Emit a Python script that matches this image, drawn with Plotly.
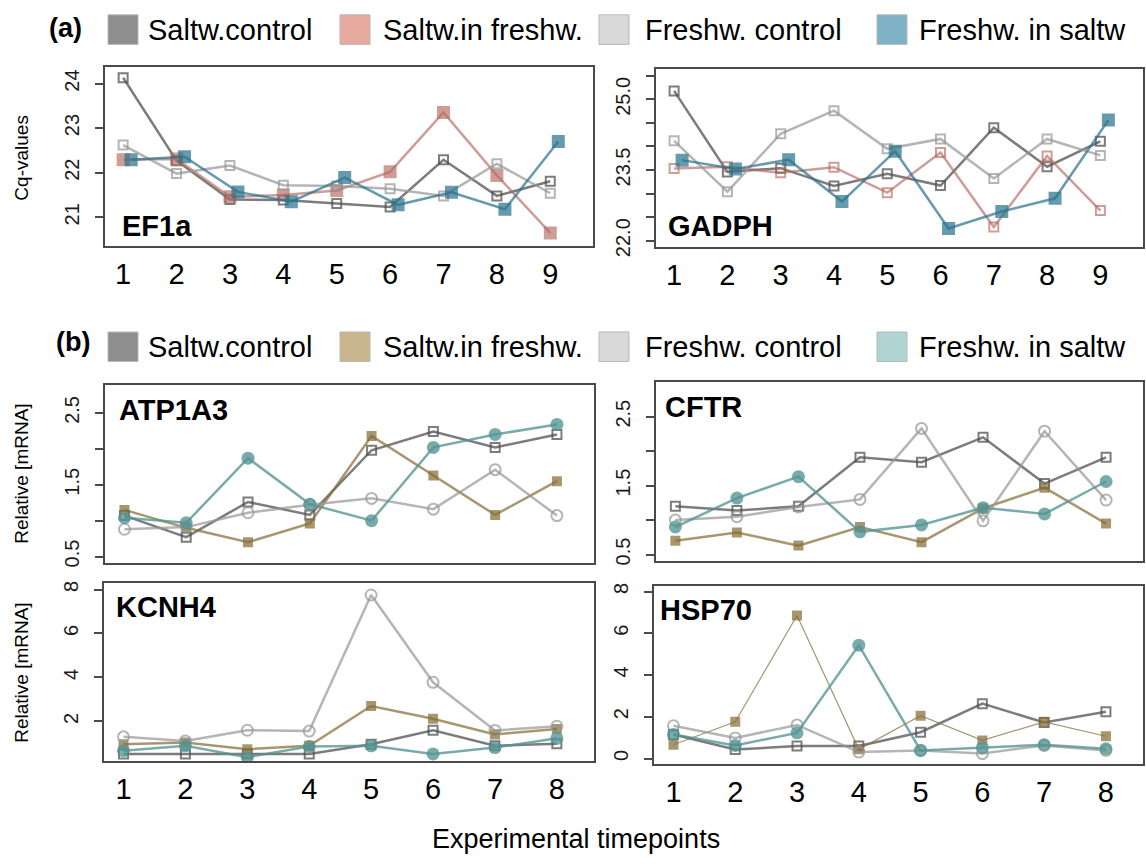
import plotly.graph_objects as go

W, H = 1146, 866

# ---------------- data ----------------
series_names = ["Saltw.control", "Saltw.in freshw.", "Freshw. control", "Freshw. in saltw"]
tp9 = [1, 2, 3, 4, 5, 6, 7, 8, 9]
tp8 = [1, 2, 3, 4, 5, 6, 7, 8]

ef1a_sc = [24.13, 22.27, 21.40, 21.39, 21.31, 21.23, 22.29, 21.48, 21.81]
ef1a_sf = [22.29, 22.31, 21.46, 21.50, 21.60, 22.02, 23.35, 21.94, 20.65]
ef1a_fc = [22.62, 21.98, 22.16, 21.72, 21.70, 21.64, 21.48, 22.20, 21.54]
ef1a_fs = [22.29, 22.36, 21.57, 21.35, 21.89, 21.28, 21.56, 21.18, 22.70]

gadph_sc = [25.18, 23.46, 23.54, 23.16, 23.42, 23.17, 24.40, 23.57, 24.11]
gadph_sf = [23.53, 23.57, 23.44, 23.56, 23.02, 23.87, 22.29, 23.80, 22.64]
gadph_fc = [24.12, 23.04, 24.27, 24.76, 23.95, 24.16, 23.32, 24.16, 23.81]
gadph_fs = [23.71, 23.52, 23.72, 22.83, 23.90, 22.26, 22.62, 22.90, 24.56]

atp_sc = [1.07, 0.77, 1.26, 1.08, 1.98, 2.24, 2.02, 2.20]
atp_sf = [1.15, 0.90, 0.70, 0.96, 2.18, 1.63, 1.08, 1.55]
atp_fc = [0.88, 0.91, 1.11, 1.22, 1.31, 1.16, 1.71, 1.07]
atp_fs = [1.04, 0.97, 1.87, 1.23, 1.00, 2.02, 2.20, 2.34]

cftr_sc = [1.20, 1.14, 1.20, 1.91, 1.84, 2.20, 1.53, 1.91]
cftr_sf = [0.70, 0.82, 0.63, 0.90, 0.68, 1.17, 1.47, 0.95]
cftr_fc = [1.00, 1.05, 1.19, 1.30, 2.33, 0.99, 2.29, 1.29]
cftr_fs = [0.90, 1.32, 1.63, 0.83, 0.93, 1.18, 1.09, 1.56]

kcnh4_sc = [0.52, 0.52, 0.52, 0.52, 0.96, 1.60, 0.89, 0.99]
kcnh4_sf = [0.96, 1.04, 0.74, 0.89, 2.70, 2.12, 1.41, 1.66]
kcnh4_fc = [1.30, 1.11, 1.60, 1.56, 7.75, 3.78, 1.59, 1.78]
kcnh4_fs = [0.67, 0.89, 0.37, 0.86, 0.89, 0.52, 0.81, 1.23]

hsp_sc = [1.15, 0.43, 0.60, 0.60, 1.26, 2.63, 1.73, 2.24]
hsp_sf = [0.66, 1.76, 6.85, 0.44, 2.05, 0.87, 1.76, 1.07]
hsp_fc = [1.57, 0.99, 1.61, 0.31, 0.39, 0.24, 0.63, 0.39]
hsp_fs = [1.15, 0.63, 1.23, 5.43, 0.39, 0.52, 0.66, 0.47]

FONT = "Liberation Sans, Arial, Helvetica, sans-serif"

# ---------------- styles ----------------
C_SC = "rgba(80,80,80,0.75)"
C_FC = "rgba(150,150,150,0.70)"
C_SF_A = "rgba(180,105,95,0.65)"
C_FS_A = "rgba(45,115,140,0.72)"
C_SF_B = "rgba(135,110,55,0.72)"
C_FS_B = "rgba(85,148,148,0.78)"

fig = go.Figure()


def px_dom_x(a, b):
    return [a / W, b / W]


def px_dom_y(top, bottom):
    return [1 - bottom / H, 1 - top / H]


panels = [
    ("EF1a", 1, (105, 593), (65, 247), [20.35, 24.37], [21, 22, 23, 24], ["21", "22", "23", "24"], [0.66, 9.8], tp9, True),
    ("GADPH", 2, (656, 1143), (67, 248), [21.86, 25.645],
     [22.0, 22.5, 23.0, 23.5, 24.0, 24.5, 25.0, 25.5], ["22.0", "", "", "23.5", "", "", "25.0", ""], [0.66, 9.8], tp9, True),
    ("ATP1A3", 3, (105, 594), (388, 569), [0.404, 2.886], [0.5, 1.0, 1.5, 2.0, 2.5], ["0.5", "", "1.5", "", "2.5"], [0.685, 8.6], tp8, False),
    ("CFTR", 4, (656, 1143), (385, 566), [0.414, 3.0], [0.5, 1.0, 1.5, 2.0, 2.5], ["0.5", "", "1.5", "", "2.5"], [0.685, 8.6], tp8, False),
    ("KCNH4", 5, (104, 594), (589, 770), [0.18, 8.29], [2, 4, 6, 8], ["2", "4", "6", "8"], [0.685, 8.6], tp8, True),
    ("HSP70", 6, (654, 1143), (592, 773), [-0.28, 8.26], [0, 2, 4, 6, 8], ["0", "2", "4", "6", "8"], [0.685, 8.6], tp8, True),
]

layout_axes = {}
for name, i, xd, yd, yr, tv, tt, xr, xt, showx in panels:
    xa = "xaxis" if i == 1 else f"xaxis{i}"
    ya = "yaxis" if i == 1 else f"yaxis{i}"
    layout_axes[xa] = dict(
        domain=px_dom_x(*xd), range=xr, anchor=f"y{'' if i == 1 else i}",
        showline=True, mirror=True, linecolor="#4a4a4a", linewidth=1.5,
        showgrid=False, zeroline=False, ticks="", tickvals=xt,
        showticklabels=showx, tickfont=dict(size=29, color="black", family=FONT),
        ticklabelstandoff=1,
    )
    layout_axes[ya] = dict(
        domain=px_dom_y(*yd), range=yr, anchor=f"x{'' if i == 1 else i}",
        showline=True, mirror=True, linecolor="#4a4a4a", linewidth=1.5,
        showgrid=False, zeroline=False, ticks="outside", ticklen=8, tickwidth=1.5,
        tickcolor="#4a4a4a", tickvals=tv, ticktext=tt, tickangle=-90,
        tickfont=dict(size=20, color="#1a1a1a", family=FONT), ticklabelstandoff=8,
    )


def add(i, x, y, color, symbol, size, lw=2.5, mlw=2):
    xr = "x" if i == 1 else f"x{i}"
    yr = "y" if i == 1 else f"y{i}"
    fig.add_trace(go.Scatter(
        x=x, y=y, xaxis=xr, yaxis=yr, mode="lines+markers", showlegend=False,
        line=dict(color=color, width=lw),
        marker=dict(symbol=symbol, size=size, color=color, line=dict(color=color, width=mlw)),
    ))


# teal series in (a) is slightly dodged to the right
dodge = 0.15
tp9_dodged = [t + dodge for t in tp9]

# EF1a
add(1, tp9, ef1a_sc, C_SC, "square-open", 9)
add(1, tp9, ef1a_sf, C_SF_A, "square", 13, mlw=0)
add(1, tp9, ef1a_fc, C_FC, "square-open", 9)
add(1, tp9_dodged, ef1a_fs, C_FS_A, "square", 13, mlw=0)
# GADPH
add(2, tp9, gadph_sc, C_SC, "square-open", 9)
add(2, tp9, gadph_sf, C_SF_A, "square-open", 9)
add(2, tp9, gadph_fc, C_FC, "square-open", 9)
add(2, tp9_dodged, gadph_fs, C_FS_A, "square", 13, mlw=0)
# ATP1A3
add(3, tp8, atp_sc, C_SC, "square-open", 9)
add(3, tp8, atp_sf, C_SF_B, "square", 10, mlw=0)
add(3, tp8, atp_fc, C_FC, "circle-open", 11)
add(3, tp8, atp_fs, C_FS_B, "circle", 13, mlw=0)
# CFTR
add(4, tp8, cftr_sc, C_SC, "square-open", 9)
add(4, tp8, cftr_sf, C_SF_B, "square", 10, mlw=0)
add(4, tp8, cftr_fc, C_FC, "circle-open", 11)
add(4, tp8, cftr_fs, C_FS_B, "circle", 13, mlw=0)
# KCNH4
add(5, tp8, kcnh4_sc, C_SC, "square-open", 9)
add(5, tp8, kcnh4_sf, C_SF_B, "square", 10, mlw=0)
add(5, tp8, kcnh4_fc, C_FC, "circle-open", 11)
add(5, tp8, kcnh4_fs, C_FS_B, "circle", 13, mlw=0)
# HSP70
add(6, tp8, hsp_sc, C_SC, "square-open", 9)
add(6, tp8, hsp_sf, C_SF_B, "square", 10, lw=1.2, mlw=0)
add(6, tp8, hsp_fc, C_FC, "circle-open", 11)
add(6, tp8, hsp_fs, C_FS_B, "circle", 13, mlw=0)

annotations = []
shapes = []

# panel names
name_pos = {"EF1a": (120, 226), "GADPH": (666, 226), "ATP1A3": (117, 413),
            "CFTR": (663, 410), "KCNH4": (114, 613), "HSP70": (658, 616)}
for nm, (px, py) in name_pos.items():
    annotations.append(dict(text=f"<b>{nm}</b>", x=px / W, y=1 - py / H, xref="paper", yref="paper",
                            xanchor="left", yanchor="middle", showarrow=False,
                            font=dict(size=29, color="black", family=FONT)))

# y axis titles
for txt, py in [("Cq-values", 157), ("Relative [mRNA]", 478), ("Relative [mRNA]", 680)]:
    annotations.append(dict(text=txt, x=22 / W, y=1 - py / H, xref="paper", yref="paper",
                            xanchor="center", yanchor="middle", textangle=-90, showarrow=False,
                            font=dict(size=19, color="black", family=FONT)))

# x title
annotations.append(dict(text="Experimental timepoints", x=576 / W, y=1 - 849 / H, xref="paper", yref="paper",
                        xanchor="center", yanchor="middle", showarrow=False,
                        font=dict(size=27, color="black", family=FONT)))

# legends
leg_a_colors = ["#8e8e8e", "#e6aa9f", "#d9d9d9", "#7fb2c6"]
leg_b_colors = ["#8e8e8e", "#c9b58e", "#d9d9d9", "#b2d3d3"]
sq_x = [108, 340, 599, 877]
txt_x = [146, 381, 643, 917]
for tag, cy, cols, tag_x, tag_dy in [("(a)", 27, leg_a_colors, 47, -2), ("(b)", 349, leg_b_colors, 54, -5)]:
    annotations.append(dict(text=f"<b>{tag}</b>", x=tag_x / W, y=1 - (cy + tag_dy) / H, xref="paper", yref="paper",
                            xanchor="left", yanchor="middle", showarrow=False,
                            font=dict(size=27, color="black", family=FONT)))
    for sx, tx, col, nm in zip(sq_x, txt_x, cols, series_names):
        shapes.append(dict(type="rect", xref="paper", yref="paper",
                           x0=sx / W, x1=(sx + 30) / W, y0=1 - (cy + 15) / H, y1=1 - (cy - 15) / H,
                           fillcolor=col, line=dict(color="#b8b8b8", width=1)))
        annotations.append(dict(text=nm, x=tx / W, y=1 - cy / H, xref="paper", yref="paper",
                                xanchor="left", yanchor="middle", showarrow=False,
                                font=dict(size=29, color="black", family=FONT)))

fig.update_layout(
    width=W, height=H, margin=dict(l=0, r=0, t=0, b=0),
    paper_bgcolor="white", plot_bgcolor="white",
    annotations=annotations, shapes=shapes, showlegend=False,
    **layout_axes,
)

fig.write_html("out.html")
